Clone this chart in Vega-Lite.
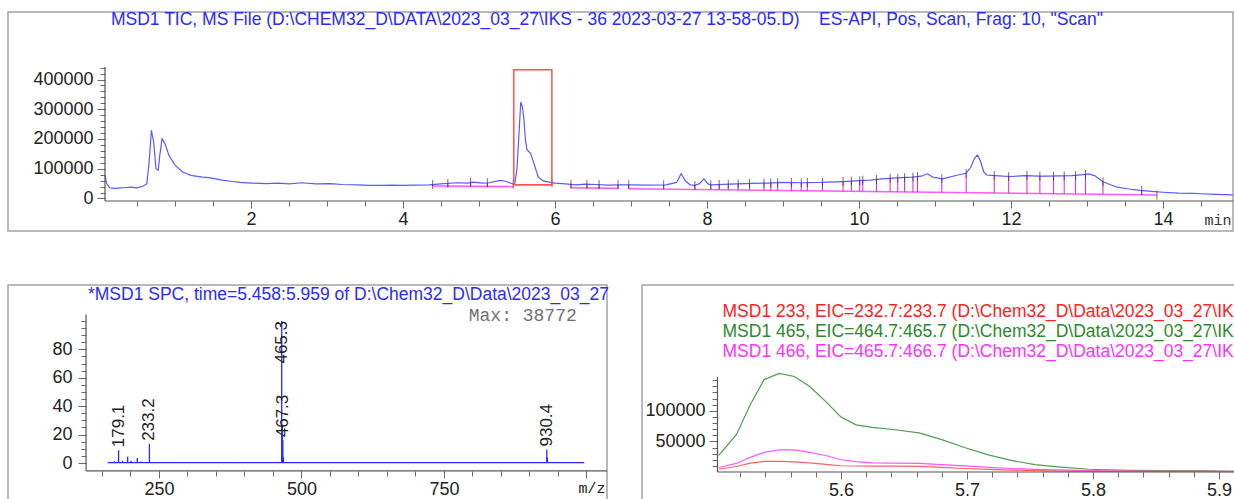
{
  "$schema": "https://vega.github.io/schema/vega-lite/v6.json",
  "padding": {"left": 7, "top": 10, "right": 0, "bottom": 0},
  "background": "white",
  "bounds": "flush",
  "spacing": 54,
  "config": {
    "view": {"stroke": "#a3a3a3", "strokeWidth": 1.5},
    "axis": {"grid": false, "domain": false, "labelFont": "Liberation Sans", "labelFontSize": 18, "labelColor": "#222222", "tickColor": "#6a6a6a", "tickWidth": 1, "labelOverlap": false, "labelFlush": false, "labelBound": false}
  },
  "datasets": {
    "tic": [
      {"t":0.08,"v":78000},{"t":0.10,"v":50000},{"t":0.14,"v":36000},{"t":0.2,"v":34000},{"t":0.26,"v":35000},{"t":0.35,"v":37000},{"t":0.42,"v":38000},{"t":0.50,"v":36000},{"t":0.58,"v":41000},{"t":0.63,"v":50000},{"t":0.66,"v":123000},{"t":0.69,"v":229000},{"t":0.72,"v":190000},{"t":0.75,"v":100000},{"t":0.78,"v":95000},{"t":0.80,"v":145000},{"t":0.83,"v":201000},{"t":0.87,"v":184000},{"t":0.92,"v":145000},{"t":1.00,"v":112000},{"t":1.10,"v":89000},{"t":1.21,"v":78000},{"t":1.36,"v":72000},{"t":1.45,"v":70000},{"t":1.52,"v":67000},{"t":1.62,"v":62000},{"t":1.73,"v":58000},{"t":1.85,"v":54000},{"t":2.0,"v":52000},{"t":2.2,"v":50000},{"t":2.36,"v":52000},{"t":2.5,"v":49000},{"t":2.67,"v":53000},{"t":2.85,"v":49000},{"t":3.04,"v":50000},{"t":3.2,"v":47000},{"t":3.4,"v":46000},{"t":3.55,"v":44000},{"t":3.72,"v":44000},{"t":3.85,"v":45000},{"t":4.0,"v":44000},{"t":4.15,"v":45000},{"t":4.34,"v":46000},{"t":4.5,"v":49000},{"t":4.71,"v":53000},{"t":4.85,"v":52000},{"t":4.92,"v":55000},{"t":5.05,"v":52000},{"t":5.13,"v":53000},{"t":5.28,"v":61000},{"t":5.35,"v":58000},{"t":5.41,"v":52000},{"t":5.47,"v":47000},{"t":5.50,"v":100000},{"t":5.53,"v":235000},{"t":5.55,"v":324000},{"t":5.57,"v":310000},{"t":5.59,"v":270000},{"t":5.61,"v":200000},{"t":5.63,"v":165000},{"t":5.68,"v":151000},{"t":5.73,"v":112000},{"t":5.78,"v":72000},{"t":5.84,"v":60000},{"t":5.89,"v":57000},{"t":6.0,"v":52000},{"t":6.14,"v":49000},{"t":6.28,"v":46000},{"t":6.4,"v":48000},{"t":6.54,"v":47000},{"t":6.7,"v":45000},{"t":6.85,"v":46000},{"t":7.0,"v":46000},{"t":7.2,"v":45000},{"t":7.46,"v":46000},{"t":7.6,"v":54000},{"t":7.66,"v":83000},{"t":7.72,"v":58000},{"t":7.78,"v":46000},{"t":7.84,"v":44000},{"t":7.9,"v":50000},{"t":7.96,"v":66000},{"t":8.01,"v":50000},{"t":8.05,"v":46000},{"t":8.3,"v":48000},{"t":8.6,"v":51000},{"t":8.8,"v":52000},{"t":9.0,"v":54000},{"t":9.25,"v":53000},{"t":9.5,"v":54000},{"t":9.8,"v":57000},{"t":10.0,"v":60000},{"t":10.15,"v":62000},{"t":10.3,"v":66000},{"t":10.5,"v":69000},{"t":10.7,"v":72000},{"t":10.82,"v":75000},{"t":10.9,"v":83000},{"t":10.97,"v":72000},{"t":11.1,"v":66000},{"t":11.3,"v":79000},{"t":11.41,"v":85000},{"t":11.47,"v":105000},{"t":11.52,"v":135000},{"t":11.56,"v":146000},{"t":11.6,"v":125000},{"t":11.64,"v":90000},{"t":11.68,"v":79000},{"t":11.78,"v":77000},{"t":11.9,"v":75000},{"t":12.0,"v":74000},{"t":12.2,"v":77000},{"t":12.35,"v":75000},{"t":12.5,"v":75000},{"t":12.65,"v":76000},{"t":12.8,"v":77000},{"t":12.95,"v":80000},{"t":13.02,"v":83000},{"t":13.1,"v":77000},{"t":13.2,"v":58000},{"t":13.3,"v":47000},{"t":13.4,"v":38000},{"t":13.55,"v":32000},{"t":13.7,"v":27000},{"t":13.85,"v":24000},{"t":14.0,"v":21000},{"t":14.2,"v":18000},{"t":14.4,"v":17000},{"t":14.5,"v":16000},{"t":14.7,"v":14000},{"t":14.92,"v":12500}
    ],
    "events": [
      {"t":4.39,"top":47000,"base":42000},{"t":4.59,"top":50000,"base":41600},{"t":4.89,"top":55000,"base":41000},{"t":5.11,"top":53000,"base":40600},{"t":5.45,"top":48000,"base":46000},{"t":5.96,"top":53000,"base":46000},{"t":6.21,"top":48000,"base":36000},{"t":6.42,"top":48000,"base":35300},{"t":6.58,"top":47000,"base":34800},{"t":6.83,"top":46000,"base":34000},{"t":6.97,"top":46000,"base":33000},{"t":7.43,"top":46000,"base":31600},{"t":7.84,"top":44000,"base":30400},{"t":8.05,"top":46000,"base":29700},{"t":8.16,"top":47000,"base":29400},{"t":8.28,"top":48000,"base":29000},{"t":8.41,"top":49000,"base":28600},{"t":8.56,"top":51000,"base":28200},{"t":8.75,"top":52000,"base":27600},{"t":8.84,"top":52000,"base":27300},{"t":8.93,"top":53000,"base":27100},{"t":9.11,"top":54000,"base":26500},{"t":9.24,"top":53000,"base":26100},{"t":9.32,"top":54000,"base":25900},{"t":9.52,"top":54000,"base":25300},{"t":9.79,"top":57000,"base":24500},{"t":9.9,"top":58000,"base":24100},{"t":10.01,"top":60000,"base":23800},{"t":10.05,"top":61000,"base":23700},{"t":10.23,"top":64000,"base":23100},{"t":10.41,"top":68000,"base":22600},{"t":10.51,"top":69000,"base":22300},{"t":10.6,"top":70000,"base":22000},{"t":10.71,"top":72000,"base":21700},{"t":10.77,"top":73000,"base":21500},{"t":11.09,"top":67000,"base":20500},{"t":11.41,"top":85000,"base":19600},{"t":11.78,"top":77000,"base":18500},{"t":11.97,"top":74000,"base":17900},{"t":12.21,"top":77000,"base":17200},{"t":12.38,"top":75000,"base":16700},{"t":12.56,"top":75000,"base":16100},{"t":12.7,"top":76000,"base":15700},{"t":12.85,"top":77000,"base":15200},{"t":12.98,"top":81000,"base":14800},{"t":13.21,"top":56000,"base":14100},{"t":13.72,"top":27000,"base":12600},{"t":13.92,"top":12000,"base":12000}
    ],
    "segments": [
      {"t1":4.39,"t2":5.45,"v1":42000,"v2":40000},{"t1":5.45,"t2":5.96,"v1":46000,"v2":46000},{"t1":6.21,"t2":6.83,"v1":36000,"v2":34000},{"t1":6.97,"t2":13.92,"v1":33000,"v2":12000}
    ],
    "spectrum": [
      {"mz":165,"i":0.8},{"mz":172,"i":1.2},{"mz":179.1,"i":9},{"mz":186,"i":1.5},{"mz":195,"i":4.5},{"mz":201,"i":1.5},{"mz":212,"i":3.5},{"mz":218,"i":1},{"mz":233.2,"i":13.5},{"mz":262,"i":0.6},{"mz":300,"i":0.4},{"mz":388,"i":0.8},{"mz":407,"i":0.6},{"mz":465.3,"i":100},{"mz":466.3,"i":27},{"mz":467.3,"i":16},{"mz":468.3,"i":4},{"mz":546,"i":0.6},{"mz":930.4,"i":9.5},{"mz":931.4,"i":4}
    ],
    "peaklabels": [
      {"mz":179.1,"i":9,"label":"179.1"},{"mz":233.2,"i":13.5,"label":"233.2"},{"mz":467.3,"i":16,"label":"467.3"},{"mz":930.4,"i":9.5,"label":"930.4"},{"mz":465.3,"i":100,"label":"465.3"}
    ],
    "eic": [
      {"k":"465","t":5.503,"v":27000},{"k":"465","t":5.517,"v":61000},{"k":"465","t":5.528,"v":110000},{"k":"465","t":5.539,"v":151000},{"k":"465","t":5.551,"v":161000},{"k":"465","t":5.563,"v":156000},{"k":"465","t":5.575,"v":140000},{"k":"465","t":5.588,"v":115000},{"k":"465","t":5.6,"v":90000},{"k":"465","t":5.612,"v":77000},{"k":"465","t":5.625,"v":73000},{"k":"465","t":5.643,"v":69000},{"k":"465","t":5.662,"v":64000},{"k":"465","t":5.68,"v":53000},{"k":"465","t":5.698,"v":40000},{"k":"465","t":5.717,"v":28000},{"k":"465","t":5.735,"v":19000},{"k":"465","t":5.754,"v":12000},{"k":"465","t":5.772,"v":8500},{"k":"465","t":5.797,"v":4500},{"k":"465","t":5.828,"v":2800},{"k":"465","t":5.858,"v":2300},{"k":"465","t":5.889,"v":1700},{"k":"465","t":5.912,"v":1100},
      {"k":"466","t":5.503,"v":7400},{"k":"466","t":5.517,"v":14000},{"k":"466","t":5.528,"v":24000},{"k":"466","t":5.539,"v":32000},{"k":"466","t":5.551,"v":36000},{"k":"466","t":5.563,"v":36000},{"k":"466","t":5.575,"v":32000},{"k":"466","t":5.588,"v":27000},{"k":"466","t":5.6,"v":20000},{"k":"466","t":5.612,"v":17000},{"k":"466","t":5.625,"v":15000},{"k":"466","t":5.643,"v":14500},{"k":"466","t":5.662,"v":14200},{"k":"466","t":5.68,"v":12000},{"k":"466","t":5.698,"v":10000},{"k":"466","t":5.717,"v":7500},{"k":"466","t":5.735,"v":5700},{"k":"466","t":5.754,"v":4200},{"k":"466","t":5.772,"v":3400},{"k":"466","t":5.797,"v":2300},{"k":"466","t":5.828,"v":1600},{"k":"466","t":5.858,"v":1200},{"k":"466","t":5.889,"v":1100},{"k":"466","t":5.912,"v":1100},
      {"k":"233","t":5.503,"v":4500},{"k":"233","t":5.517,"v":9000},{"k":"233","t":5.528,"v":14500},{"k":"233","t":5.539,"v":17500},{"k":"233","t":5.551,"v":17500},{"k":"233","t":5.563,"v":16500},{"k":"233","t":5.575,"v":14800},{"k":"233","t":5.588,"v":12500},{"k":"233","t":5.6,"v":10200},{"k":"233","t":5.612,"v":9800},{"k":"233","t":5.625,"v":9700},{"k":"233","t":5.643,"v":9500},{"k":"233","t":5.662,"v":9100},{"k":"233","t":5.68,"v":7500},{"k":"233","t":5.698,"v":5700},{"k":"233","t":5.717,"v":4200},{"k":"233","t":5.735,"v":3000},{"k":"233","t":5.754,"v":2200},{"k":"233","t":5.772,"v":1500},{"k":"233","t":5.797,"v":1100},{"k":"233","t":5.828,"v":1100},{"k":"233","t":5.858,"v":1100},{"k":"233","t":5.889,"v":900},{"k":"233","t":5.912,"v":600}
    ]
  },
  "vconcat": [
    {
      "width": 1225,
      "height": 219,
      "resolve": {"axis": {"x": "independent", "y": "independent"}},
      "layer": [
        {
          "data": {"name": "tic"},
          "mark": {"type": "line", "color": "#5a5aff", "strokeWidth": 1.2},
          "encoding": {
            "x": {"field": "t", "type": "quantitative", "title": null,
                  "scale": {"domain": [-1.197, 14.921], "nice": false, "zero": false},
                  "axis": {"orient": "bottom", "values": [2,4,6,8,10,12,14], "offset": -30, "labelPadding": 2, "tickSize": 7}},
            "y": {"field": "v", "type": "quantitative", "title": null,
                  "scale": {"domain": [-109244, 626891], "nice": false, "zero": false},
                  "axis": {"orient": "left", "values": [0,100000,200000,300000,400000], "format": "d", "offset": -97, "labelPadding": 4, "tickSize": 8}}
          }
        },
        {
          "data": {"name": "segments"},
          "mark": {"type": "rule", "color": "#ff5cf0", "strokeWidth": 1.6},
          "encoding": {"x": {"field": "t1", "type": "quantitative", "title": null, "axis": null}, "x2": {"field": "t2"},
                       "y": {"field": "v1", "type": "quantitative", "title": null,
                             "axis": {"orient": "left", "values": [0,20000,40000,60000,80000,100000,120000,140000,160000,180000,200000,220000,240000,260000,280000,300000,320000,340000,360000,380000,400000,420000,440000], "labels": false, "offset": -97, "tickSize": 5}},
                       "y2": {"field": "v2"}}
        },
        {
          "data": {"name": "events"},
          "mark": {"type": "rule", "color": "#e020e0", "strokeWidth": 1},
          "encoding": {"x": {"field": "t", "type": "quantitative", "title": null,
                             "axis": {"orient": "bottom", "values": [0.5,1,1.5,2,2.5,3,3.5,4,4.5,5,5.5,6,6.5,7,7.5,8,8.5,9,9.5,10,10.5,11,11.5,12,12.5,13,13.5,14,14.5], "labels": false, "offset": -30, "tickSize": 5}},
                       "y": {"field": "base", "type": "quantitative", "title": null, "axis": null}, "y2": {"field": "top"}}
        },
        {
          "data": {"name": "events"},
          "mark": {"type": "tick", "orient": "vertical", "size": 9, "thickness": 1, "color": "#333333"},
          "encoding": {"x": {"field": "t", "type": "quantitative", "title": null, "axis": null}, "y": {"field": "top", "type": "quantitative", "title": null, "axis": null}}
        },
        {
          "data": {"values": [{}]},
          "mark": {"type": "rule", "color": "#555555", "strokeWidth": 1.2},
          "encoding": {"x": {"datum": 0.079, "type": "quantitative", "axis": null}, "y": {"datum": -8400, "type": "quantitative", "axis": null}, "y2": {"datum": 442000}}
        },
        {
          "data": {"values": [{}]},
          "mark": {"type": "rule", "color": "#555555", "strokeWidth": 1.2},
          "encoding": {"x": {"datum": 0.079, "type": "quantitative", "axis": null}, "x2": {"datum": 14.921}, "y": {"datum": -8400, "type": "quantitative", "axis": null}}
        },
        {
          "data": {"values": [{}]},
          "mark": {"type": "rect", "fillOpacity": 0, "stroke": "#ff5252", "strokeWidth": 1.5},
          "encoding": {"x": {"datum": 5.458, "type": "quantitative", "axis": null}, "x2": {"datum": 5.959}, "y": {"datum": 46000, "type": "quantitative", "axis": null}, "y2": {"datum": 433000}}
        },
        {
          "data": {"values": [{}]},
          "mark": {"type": "text", "align": "right", "baseline": "middle", "font": "Liberation Mono", "fontSize": 15, "color": "#333333"},
          "encoding": {"x": {"datum": 14.9, "type": "quantitative", "axis": null}, "y": {"datum": -72000, "type": "quantitative", "axis": null}, "text": {"value": "min"}}
        },
        {
          "data": {"values": [{}]},
          "mark": {"type": "text", "align": "left", "baseline": "middle", "font": "Liberation Sans", "fontSize": 17.5, "color": "#2a2aff"},
          "encoding": {"x": {"datum": 0.158, "type": "quantitative", "axis": null}, "y": {"datum": 600000, "type": "quantitative", "axis": null}, "text": {"value": "MSD1 TIC, MS File (D:\\CHEM32_D\\DATA\\2023_03_27\\IKS - 36 2023-03-27 13-58-05.D)\u00a0\u00a0\u00a0 ES-API, Pos, Scan, Frag: 10, \"Scan\""}}
        }
      ]
    },
    {
      "hconcat": [
        {
          "width": 599,
          "height": 216,
          "resolve": {"axis": {"x": "independent", "y": "independent"}},
          "layer": [
            {
              "data": {"name": "spectrum"},
              "mark": {"type": "rule", "color": "#2a2aff", "strokeWidth": 1.3},
              "encoding": {
                "x": {"field": "mz", "type": "quantitative", "title": null,
                      "scale": {"domain": [-14.9, 1036], "nice": false, "zero": false},
                      "axis": {"orient": "bottom", "values": [250,500,750,1000], "offset": -30, "labelPadding": 2, "tickSize": 7,
                               "labelExpr": "datum.value === 1000 ? 'm/z' : datum.label",
                               "labelFont": {"condition": {"test": "datum.value === 1000", "value": "Liberation Mono"}, "value": "Liberation Sans"},
                               "labelFontSize": {"condition": {"test": "datum.value === 1000", "value": 15}, "value": 18},
                               "labelOffset": {"condition": {"test": "datum.value === 1000", "value": 5}, "value": 0}}},
                "y": {"field": "i", "type": "quantitative", "title": null,
                      "scale": {"domain": [-26.76, 125.35], "nice": false, "zero": false},
                      "axis": {"orient": "left", "values": [0,20,40,60,80], "offset": -78, "labelPadding": 6, "tickSize": 8}},
                "y2": {"datum": 0}
              }
            },
            {
              "data": {"name": "peaklabels"},
              "transform": [{"filter": "datum.i < 90"}],
              "mark": {"type": "text", "angle": 270, "align": "left", "baseline": "middle", "dx": 3, "font": "Liberation Sans", "fontSize": 17, "color": "#222222"},
              "encoding": {"x": {"field": "mz", "type": "quantitative", "title": null,
                                 "axis": {"orient": "bottom", "values": [150,200,250,300,350,400,450,500,550,600,650,700,750,800,850,900,950,1000], "labels": false, "offset": -30, "tickSize": 5}},
                           "y": {"field": "i", "type": "quantitative", "title": null,
                                 "axis": {"orient": "left", "values": [0,5,10,15,20,25,30,35,40,45,50,55,60,65,70,75,80,85,90,95,100], "labels": false, "offset": -78, "tickSize": 5}},
                           "text": {"field": "label"}}
            },
            {
              "data": {"name": "peaklabels"},
              "transform": [{"filter": "datum.i >= 90"}],
              "mark": {"type": "text", "angle": 270, "align": "right", "baseline": "middle", "font": "Liberation Sans", "fontSize": 17, "color": "#222222"},
              "encoding": {"x": {"field": "mz", "type": "quantitative", "title": null, "axis": null}, "y": {"field": "i", "type": "quantitative", "title": null, "axis": null}, "text": {"field": "label"}}
            },
            {
              "data": {"values": [{}]},
              "mark": {"type": "rule", "color": "#2a2aff", "strokeWidth": 1.2},
              "encoding": {"x": {"datum": 160, "type": "quantitative", "axis": null}, "x2": {"datum": 996}, "y": {"datum": 0.3, "type": "quantitative", "axis": null}}
            },
            {
              "data": {"values": [{}]},
              "mark": {"type": "rule", "color": "#555555", "strokeWidth": 1.2},
              "encoding": {"x": {"datum": 122, "type": "quantitative", "axis": null}, "y": {"datum": -5.6, "type": "quantitative", "axis": null}, "y2": {"datum": 104.5}}
            },
            {
              "data": {"values": [{}]},
              "mark": {"type": "rule", "color": "#555555", "strokeWidth": 1.2},
              "encoding": {"x": {"datum": 122, "type": "quantitative", "axis": null}, "x2": {"datum": 1036}, "y": {"datum": -5.6, "type": "quantitative", "axis": null}}
            },
            {
              "data": {"values": [{}]},
              "mark": {"type": "text", "align": "right", "baseline": "middle", "font": "Liberation Mono", "fontSize": 18, "color": "#707070"},
              "encoding": {"x": {"datum": 983, "type": "quantitative", "axis": null}, "y": {"datum": 103.5, "type": "quantitative", "axis": null}, "text": {"value": "Max: 38772"}}
            },
            {
              "data": {"values": [{}]},
              "mark": {"type": "text", "align": "left", "baseline": "middle", "font": "Liberation Sans", "fontSize": 17.5, "color": "#2a2aff"},
              "encoding": {"x": {"datum": 125.4, "type": "quantitative", "axis": null}, "y": {"datum": 118.3, "type": "quantitative", "axis": null}, "text": {"value": "*MSD1 SPC, time=5.458:5.959 of D:\\Chem32_D\\Data\\2023_03_27"}}
            }
          ]
        },
        {
          "width": 593,
          "height": 216,
          "resolve": {"axis": {"x": "independent", "y": "independent"}},
          "layer": [
            {
              "data": {"name": "eic"},
              "mark": {"type": "line", "strokeWidth": 1.2},
              "encoding": {
                "x": {"field": "t", "type": "quantitative", "title": null,
                      "scale": {"domain": [5.4421, 5.9127], "nice": false, "zero": false},
                      "axis": {"orient": "bottom", "values": [5.6,5.7,5.8,5.9], "format": ".1f", "offset": -29, "labelPadding": 2, "tickSize": 7}},
                "y": {"field": "v", "type": "quantitative", "title": null,
                      "scale": {"domain": [-47386, 305556], "nice": false, "zero": false},
                      "axis": {"orient": "left", "values": [50000,100000], "format": "d", "offset": -75, "labelPadding": 4, "tickSize": 8}},
                "color": {"field": "k", "type": "nominal",
                          "scale": {"domain": ["233", "465", "466"], "range": ["#ff6060", "#4c9f4c", "#ff55ff"]},
                          "legend": {"orient": "none", "legendX": 697, "legendY": 291, "title": null, "direction": "vertical",
                                     "symbolSize": 0, "symbolStrokeWidth": 0, "symbolOpacity": 0, "labelOffset": 0, "rowPadding": 1, "labelLimit": 2000,
                                     "labelFont": "Liberation Sans", "labelFontSize": 17.5,
                                     "labelExpr": "datum.value === '233' ? 'MSD1 233, EIC=232.7:233.7 (D:\\\\Chem32_D\\\\Data\\\\2023_03_27\\\\IK' : datum.value === '465' ? 'MSD1 465, EIC=464.7:465.7 (D:\\\\Chem32_D\\\\Data\\\\2023_03_27\\\\IK' : 'MSD1 466, EIC=465.7:466.7 (D:\\\\Chem32_D\\\\Data\\\\2023_03_27\\\\IK'",
                                     "labelColor": {"expr": "datum.value === '233' ? '#ff2020' : datum.value === '465' ? '#2a8a2a' : '#ff30ff'"}}}
              }
            },
            {
              "data": {"values": [{}]},
              "mark": {"type": "rule", "color": "#555555", "strokeWidth": 1.2},
              "encoding": {"x": {"datum": 5.502, "type": "quantitative",
                                 "axis": {"orient": "bottom", "values": [5.52,5.54,5.56,5.58,5.6,5.62,5.64,5.66,5.68,5.7,5.72,5.74,5.76,5.78,5.8,5.82,5.84,5.86,5.88,5.9], "labels": false, "offset": -29, "tickSize": 5}},
                           "y": {"datum": 0, "type": "quantitative",
                                 "axis": {"orient": "left", "values": [10000,20000,30000,40000,50000,60000,70000,80000,90000,100000,110000,120000,130000,140000,150000], "labels": false, "offset": -75, "tickSize": 5}},
                           "y2": {"datum": 155200}}
            },
            {
              "data": {"values": [{}]},
              "mark": {"type": "rule", "color": "#555555", "strokeWidth": 1.2},
              "encoding": {"x": {"datum": 5.502, "type": "quantitative", "axis": null}, "x2": {"datum": 5.9127}, "y": {"datum": 0, "type": "quantitative", "axis": null}}
            }
          ]
        }
      ],
      "spacing": 35,
      "bounds": "flush"
    }
  ]
}
